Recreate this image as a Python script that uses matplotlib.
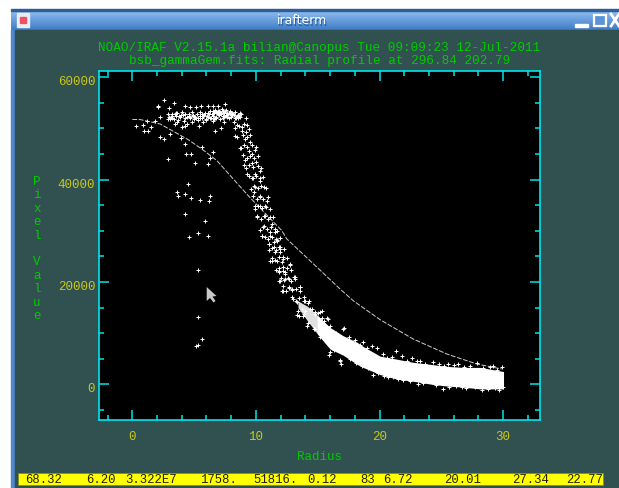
import numpy as np
import matplotlib
matplotlib.use("Agg")
import matplotlib.pyplot as plt
from matplotlib.patches import Rectangle, Polygon
from matplotlib.transforms import ScaledTranslation

# fitted curve
fit_r = [0, 0.65, 2.26, 4.53, 5.63, 6.85, 8.17, 9.38, 12.1, 12.5, 14.23, 16.81, 17.87, 20.05, 22.72, 25.44, 27.86, 29.88]
fit_v = [51770, 51730, 50870, 47800, 45980, 43700, 40120, 36860, 30020, 28400, 24490, 18620, 16340, 12620, 8850, 5920, 3970, 2990]

# solid part of the point cloud
band_r = [14.96, 16.0, 17.05, 18.19, 18.67, 20.05, 21.42, 22.72, 24.1, 25.46, 26.76, 28.13, 30.03]
band_lo = [9900, 6900, 5700, 3900, 3300, 1900, 1000, 600, 50, -350, -550, -900, -900]
band_hi = [13500, 11100, 9500, 8200, 7400, 5500, 4900, 4300, 3900, 3500, 3300, 3300, 2500]

# speckled start of the band
gray_r = [13.4, 14.2, 14.96, 16.0]
gray_lo = [15000, 12300, 9900, 7000]
gray_hi = [16300, 15200, 13500, 11000]

# outliers and the sparse points around the profile
pts_r = [2.59, 2.05, 2.05, 3.34, 2.99, 4.23, 4.63, 5.17, 5.55, 6.12, 6.52, 6.93, 7.46, 0.30, 0.84, 1.19, 0.97, 1.24, 1.51, 1.86,
         2.21, 2.21, 2.53, 3.07, 3.93, 4.23, 4.37, 4.77, 5.07, 2.86, 6.12, 6.52, 5.63, 6.31, 4.53, 3.61, 3.66, 4.23, 4.74, 5.5,
         6.25, 6.22, 4.23, 5.9, 5.28, 4.61, 6.14, 6.71, 7.19, 5.36, 4.28, 4.01, 3.48, 5.28, 5.28, 5.66, 5.28, 5.12]
pts_v = [55560, 54460, 54130, 54910, 53930, 54330, 54130, 54260, 54330, 54460, 54330, 54330, 54720, 50420, 50740, 51530, 49440, 49440, 50220, 51530,
         52180, 48270, 47950, 48930, 48070, 46970, 45010, 45010, 43250, 44040, 43060, 45470, 46310, 44170, 39150, 37520, 36870, 37130, 36410, 36020,
         36870, 35760, 33290, 31980, 29570, 28730, 28920, 49440, 50030, 50420, 50420, 50220, 50870, 22410, 13090, 8860, 7690, 7560]

# plateau
top_r = [2.94, 3.21, 3.34, 3.61, 3.83, 4.02, 4.15, 4.55, 4.82, 5.01, 5.23, 5.50, 5.71, 5.90, 6.09, 6.31, 6.52, 6.71, 6.90, 7.06,
         7.25, 7.44, 7.65, 7.87, 8.06, 8.33, 8.52, 8.68, 4.82, 4.42, 3.61, 6.52, 7.38, 8.19, 5.50, 6.98, 7.60,
         3.05, 3.5, 3.95, 4.4, 4.7, 5.1, 5.35, 5.8, 6.2, 6.4, 6.6, 6.8, 7.0, 7.15, 7.3, 7.5, 7.75, 7.95, 8.2, 8.45, 8.6,
         6.65, 6.85, 7.1, 7.35, 7.55, 7.8, 8.0, 3.2, 3.7, 4.9, 5.6, 6.0,
         2.85, 3.1, 3.45, 3.75, 4.1, 4.3, 4.6, 4.95, 5.15, 5.45, 5.75, 6.05, 6.25, 6.45, 6.75, 6.95, 7.2, 7.4, 7.7, 7.9, 8.15, 8.4,
         2.9, 3.25, 3.55, 4.25, 4.65, 5.3, 5.65, 5.95, 6.15, 6.55, 6.6, 6.8, 7.05, 7.3, 7.45, 7.6, 7.85, 8.1, 8.3, 8.55, 8.7, 8.8]
top_v = [52180, 52830, 51850, 53020, 52180, 53280, 51530, 52500, 53150, 51850, 52830, 52500, 51200, 53020, 52180, 53480, 52500, 53680, 52830, 51850,
         53810, 53020, 52180, 53480, 52630, 53150, 51980, 53020, 51200, 50870, 51200, 51400, 51200, 51200, 53280, 53280, 53680,
         51900, 52400, 52700, 52200, 52000, 52300, 52000, 52600, 52800, 52100, 53100, 53300, 52600, 52900, 52400, 53400, 52800, 52300, 52600, 52500, 52400,
         52000, 53000, 53200, 52000, 52700, 53000, 53100, 52500, 51700, 52700, 52000, 51700,
         52900, 52300, 52900, 52500, 52600, 52000, 52900, 52400, 52000, 52100, 52400, 52500, 52000, 52900, 52300, 53500, 53100, 52200, 53100, 52800, 52900, 52000,
         51800, 52000, 53100, 52800, 52300, 51700, 52900, 51900, 53000, 53400, 51800, 52100, 53400, 53500, 53300, 52500, 52100, 53000, 52100, 52600, 52200, 52800]

# falling flank
flank_r = [9.22, 9.0, 8.60, 8.33, 8.87, 9.40, 9.22, 8.33, 9.13, 9.54, 8.78, 9.94, 9.40, 9.67, 9.13, 10.02, 9.67, 9.0, 10.29, 9.27,
           9.94, 9.67, 10.35, 9.94, 10.62, 9.81, 10.35, 10.89, 9.94, 10.35, 10.75, 10.08, 10.62, 11.16, 10.62, 11.29, 10.48, 11.16, 11.69, 11.02,
           11.69, 11.96, 10.48, 11.02, 11.7, 11.56, 11.96, 11.16, 11.69, 12.23, 11.83, 12.23, 12.77, 11.83, 12.37, 13.04, 12.23, 12.64, 13.53, 12.37,
           11.43, 11.16, 11.56, 13.31, 13.85, 15.2, 15.33, 15.74, 15.95, 16.81, 11.43, 11.96, 11.29, 12.1, 12.77, 11.83, 12.37, 11.96, 12.64, 13.18,
           12.23, 12.91, 13.58, 12.1, 12.91, 13.85, 13.31, 13.45, 13.8, 14.26, 14.79, 15.33, 15.87, 14.12, 14.79, 16.0, 17.09,
           8.45, 8.9, 9.3, 8.5, 8.95, 9.25, 9.5, 8.7, 9.05, 9.3, 9.7, 10.0, 8.95, 9.3, 9.55, 9.85, 10.15, 9.2, 9.45, 9.8, 10.15, 10.45,
           9.45, 9.75, 10.0, 10.3, 10.6, 9.6, 9.85, 10.2, 10.45, 10.8, 9.75, 10.05, 10.3, 10.6, 10.95, 9.9, 10.2, 10.5, 10.85, 11.1,
           10.1, 10.4, 10.7, 11.0, 11.35, 10.3, 10.6, 10.9, 11.25, 11.55, 10.7, 11.0, 11.3, 11.6, 11.95, 11.05, 11.3, 11.6, 11.9, 12.25,
           11.3, 11.55, 11.85, 12.15, 12.5, 11.65, 11.9, 12.2, 12.5, 12.85, 12.0, 12.3, 12.6, 12.85, 13.2, 12.4, 12.65, 12.95, 13.25, 13.6,
           13.0, 13.25, 13.5, 13.85, 14.2, 13.4, 13.7, 14.0, 14.35, 14.75]
flank_v = [51980, 50870, 50420, 50030, 49570, 49900, 49250, 48600, 47940, 47420, 46120, 45860, 45660, 45010, 43900, 43510, 43250, 42860, 41750, 41100,
           41100, 40260, 39800, 38500, 38500, 37520, 36870, 35890, 34790, 34790, 34920, 32830, 32960, 32640, 31010, 31330, 29050, 29700, 30030, 27420,
           28080, 26770, 28920, 27420, 28270, 25800, 26450, 24170, 24170, 24820, 22210, 22860, 23320, 20260, 20580, 20910, 18300, 18960, 18960, 21890,
           27750, 29050, 29700, 13610, 13740, 14070, 12900, 12900, 5730, 4620, 26770, 25800, 24170, 23840, 23520, 21890, 21560, 20260, 20580, 20910,
           19280, 18630, 18960, 18300, 17000, 17000, 16020, 13420, 13420, 16350, 14070, 14400, 12770, 11460, 10810, 6250, 10940,
           50700, 50300, 50600, 48300, 48800, 48400, 48700, 46200, 46800, 46400, 46700, 46300, 44800, 44200, 44700, 44300, 44600, 42300, 42800, 42400, 42700, 42200,
           40700, 40300, 40800, 40400, 40600, 38200, 38700, 38300, 38800, 38400, 36800, 36300, 36700, 36200, 36600, 34300, 34800, 34400, 34700, 34200,
           32700, 32300, 32800, 32400, 32600, 30200, 30700, 30300, 30800, 30400, 28700, 28300, 28800, 28400, 28600, 26200, 26700, 26300, 26800, 26400,
           24700, 24300, 24800, 24400, 24600, 22300, 22700, 22200, 22800, 22400, 20700, 20300, 20800, 20200, 20600, 18300, 18800, 18400, 18700, 18200,
           16700, 16300, 16800, 16200, 15900, 14300, 14800, 14400, 14700, 13800]

# fuzz on the two edges of the band
edge_r = [17.08, 18.7, 19.37, 19.78, 21.31, 21.8, 22.61, 23.28, 24.36, 25.57, 26.38, 27.86, 29.21, 29.88,
          16.81, 16.87, 19.51, 20.72, 21.53, 23.15, 24.22, 25.17, 26.65, 28.27, 30.01,
          14.0, 14.5, 15.0, 15.5, 16.0, 16.5, 17.5, 18.0, 18.4, 19.0, 20.3, 20.6, 21.0, 22.2, 23.0, 23.7, 24.8, 25.2, 26.0, 26.8, 27.3, 28.4, 28.9, 29.5,
          14.2, 14.7, 15.2, 15.6, 16.3, 17.2, 17.6, 18.1, 18.6, 19.1, 19.9, 20.4, 21.1, 21.9, 22.5, 23.5, 24.6, 25.6, 26.2, 27.0, 27.7, 28.8, 29.3, 29.7]
edge_v = [10810, 8210, 7560, 7040, 6450, 5470, 5080, 4620, 4300, 3970, 3970, 4170, 3650, 3320,
          4820, 3970, 1820, 1370, 1040, 65, 520, -910, -590, -1040, -590,
          16300, 14800, 13900, 12300, 11400, 10100, 9200, 8600, 7700, 7100, 5900, 5200, 5300, 4600, 4500, 3900, 3900, 3500, 3700, 3300, 3600, 3200, 3300, 2800,
          11900, 10900, 9300, 8800, 6800, 6100, 5000, 4200, 3500, 3100, 2300, 1700, 1400, 800, 600, 200, -100, -500, -300, -700, -500, -1000, -800, -1100]

x_major = [0, 10, 20, 30]
x_minor = [-2, 2, 4, 6, 8, 12, 14, 16, 18, 22, 24, 26, 28, 32]
y_major = [0, 20000, 40000, 60000]
y_minor = [-5000, 5000, 10000, 15000, 25000, 30000, 35000, 45000, 50000, 55000]

status_x = [25.6, 86, 124.8, 200, 253.5, 307, 360, 383, 444, 512, 566]
status_txt = ["68.32", "6.20", "3.322E7", "1758.", "51816.", "0.12", "83", "6.72", "20.01", "27.34", "22.77"]

TEAL = "#315050"
GREEN = "#00cc00"
YELLOW = "#c9c918"
CYAN = "#00e5ee"
MONO = "Liberation Mono"

fig = plt.figure(figsize=(6.19, 4.89), dpi=100, facecolor="white")

# window around the plot, in pixel coordinates
deco = fig.add_axes([0, 0, 1, 1], zorder=0)
deco.axis("off")
grad = np.linspace(0, 1, 32).reshape(-1, 1)
cmap = matplotlib.colors.LinearSegmentedColormap.from_list("bar", ["#8dbcf0", "#3f7cc6"])
deco.imshow(grad, extent=(11, 619, 31, 12), cmap=cmap, aspect="auto")
deco.set_xlim(0, 619)
deco.set_ylim(489, 0)
deco.add_patch(Rectangle((11, 10), 608, 2, color="#2d5f96"))
deco.add_patch(Rectangle((11, 31), 4, 458, color="#4f86cc"))
deco.add_patch(Rectangle((15, 31), 604, 458, color=TEAL))
deco.add_patch(Rectangle((17, 14), 12, 14, color="#e8eef8"))
deco.add_patch(Rectangle((20, 18), 6, 6, color="#f05060"))
deco.add_patch(Rectangle((575, 25), 13, 2.5, color="white"))
deco.add_patch(Rectangle((594, 16), 12, 11, fc="#5b94d8", ec="white", lw=1.6))
deco.plot([611, 619], [15, 27], color="white", lw=2)
deco.plot([611, 619], [27, 15], color="white", lw=2)
deco.text(302.6, 22, "irafterm", color="#2d5f96", ha="center", va="center", fontsize=9, family="DejaVu Sans")
deco.text(301.6, 21, "irafterm", color="white", ha="center", va="center", fontsize=9, family="DejaVu Sans")

deco.text(319.5, 47.7, "NOAO/IRAF V2.15.1a bilian@Canopus Tue 09:09:23 12-Jul-2011", color=GREEN,
          ha="center", va="center", fontsize=9.1, family=MONO)
deco.text(320, 61.3, "bsb_gammaGem.fits: Radial profile at 296.84 202.79", color=GREEN,
          ha="center", va="center", fontsize=9.1, family=MONO)
deco.text(320, 456.7, "Radius", color=GREEN, ha="center", va="center", fontsize=9, family=MONO)

for i, ch in enumerate("Pixel Value"):
    deco.text(36.7, 182 + i * 13.4, ch, color=GREEN, ha="center", va="center", fontsize=9, family=MONO)

deco.add_patch(Rectangle((18, 474), 585, 12, color="#ffff00", ec="#8a8a20", lw=0.6))
for sx, st in zip(status_x, status_txt):
    deco.text(sx, 480.3, st, color="#222200", ha="left", va="center", fontsize=8.8, family=MONO)

# the plot itself
ax = fig.add_axes([99.3 / 619, 1 - 421 / 489, (540 - 99.3) / 619, (421 - 72) / 489], zorder=2)
ax.set_facecolor("black")
ax.set_xlim(-2.67, 32.98)
ax.set_ylim(-6977, 61230)

ax.fill_between(gray_r, gray_lo, gray_hi, color="#e0e0e0", lw=0, zorder=2)
ax.fill_between(band_r, band_lo, band_hi, color="white", lw=0, zorder=2)
ax.plot(fit_r, fit_v, color="#d0d0d0", lw=0.7, dashes=(5, 1.6), zorder=3)
for rr, vv in [(pts_r, pts_v), (top_r, top_v), (flank_r, flank_v), (edge_r, edge_v)]:
    ax.plot(rr, vv, ls="none", marker="+", ms=3.2, mew=0.7, color="white", zorder=4)

ax.set_xticks(x_major)
ax.set_xticks(x_minor, minor=True)
ax.set_yticks(y_major)
ax.set_yticks(y_minor, minor=True)
ax.set_xticklabels([str(v) for v in x_major], family=MONO, fontsize=9)
ax.set_yticklabels([str(v) for v in y_major], family=MONO, fontsize=9)
ax.tick_params(which="major", direction="in", length=7.2, width=1.1, color=CYAN, top=True, right=True, labelcolor=YELLOW)
ax.tick_params(which="minor", direction="in", length=3.4, width=1.1, color=CYAN, top=True, right=True)
ax.tick_params(axis="x", which="major", pad=7)
ax.tick_params(axis="y", which="major", pad=3)
for lab in ax.get_yticklabels():
    lab.set_transform(lab.get_transform() + ScaledTranslation(0, -2.5 / 100, fig.dpi_scale_trans))
for side in ax.spines.values():
    side.set_color(CYAN)
    side.set_linewidth(1.2)

# mouse pointer
ax.add_patch(Polygon([(206.7, 288), (206.7, 302), (210, 299), (213.5, 303.5), (215.5, 302), (212.5, 297.5), (216.5, 297)],
                     closed=True, fc="#c8c8c8", ec="none", transform=deco.transData, zorder=6))

fig.savefig("out.png", dpi=100)
